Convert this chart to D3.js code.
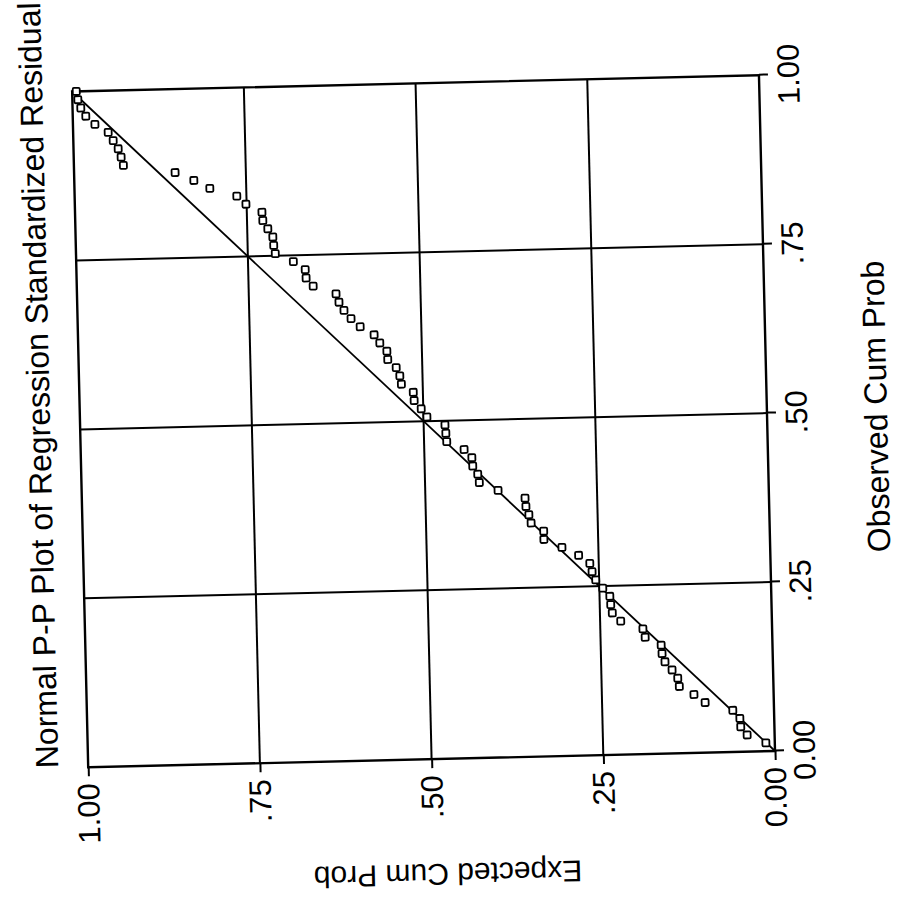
<!DOCTYPE html>
<html><head><meta charset="utf-8">
<script src="https://cdn.jsdelivr.net/npm/d3@7"></script>
<style>body{margin:0;background:#fff}</style>
</head><body>
<svg id="c" width="897" height="909" style="display:block;background:#fff"></svg>
<script>
// Observed cumulative probability of each residual (x axis of the original chart)
const observedCumProb = [
  0.0123,0.0247,0.0370,0.0494,0.0617,0.0741,0.0864,0.0988,0.1111,0.1235,
  0.1358,0.1481,0.1605,0.1728,0.1852,0.1975,0.2099,0.2222,0.2346,0.2469,
  0.2593,0.2716,0.2840,0.2963,0.3086,0.3210,0.3333,0.3457,0.3580,0.3704,
  0.3827,0.3951,0.4074,0.4198,0.4321,0.4444,0.4568,0.4691,0.4815,0.4938,
  0.5062,0.5185,0.5309,0.5432,0.5556,0.5679,0.5802,0.5926,0.6049,0.6173,
  0.6296,0.6420,0.6543,0.6667,0.6790,0.6914,0.7037,0.7160,0.7284,0.7407,
  0.7531,0.7654,0.7778,0.7901,0.8025,0.8148,0.8272,0.8395,0.8519,0.8642,
  0.8765,0.8889,0.9012,0.9136,0.9259,0.9383,0.9506,0.9630,0.9753,0.9877,1.0000
];
// Expected cumulative probability (y axis of the original chart)
const expectedCumProb = [
  0.013,0.040,0.049,0.050,0.060,0.100,0.116,0.137,0.139,0.147,
  0.157,0.161,0.162,0.185,0.188,0.220,0.232,0.234,0.235,0.245,
  0.255,0.260,0.263,0.279,0.303,0.329,0.329,0.347,0.350,0.354,
  0.355,0.394,0.421,0.423,0.430,0.431,0.442,0.467,0.468,0.469,
  0.495,0.503,0.513,0.514,0.531,0.533,0.538,0.550,0.551,0.561,
  0.569,0.589,0.602,0.612,0.619,0.623,0.656,0.666,0.667,0.684,
  0.710,0.712,0.713,0.720,0.727,0.728,0.751,0.764,0.803,0.826,
  0.853,0.928,0.931,0.935,0.942,0.949,0.968,0.981,0.988,0.992,0.994
];
const tickValues = [0, 0.25, 0.5, 0.75, 1];
const tickLabels = ["0.00", ".25", ".50", ".75", "1.00"];
const gridValues = [0.25, 0.5, 0.75];
const chartTitle = "Normal P-P Plot of Regression Standardized Residual";
const xTitle = "Observed Cum Prob";
const yTitle = "Expected Cum Prob";

const FONT = "'Liberation Sans', Arial, Helvetica, sans-serif";
const W = 676, H = 687;
const svg = d3.select("#c");
// The page shows the chart turned a quarter turn counter-clockwise (slightly skewed scan)
const g = svg.append("g").attr("transform", "translate(775,751) rotate(-91.36)");

const x = d3.scaleLinear().domain([0, 1]).range([0, W]);
const y = d3.scaleLinear().domain([0, 1]).range([0, -H]);

// grid
g.append("g").selectAll("line.v").data(gridValues).join("line")
  .attr("x1", d => x(d)).attr("x2", d => x(d))
  .attr("y1", y(0)).attr("y2", y(1))
  .attr("stroke", "#000").attr("stroke-width", 2);
g.append("g").selectAll("line.h").data(gridValues).join("line")
  .attr("x1", x(0)).attr("x2", x(1))
  .attr("y1", d => y(d)).attr("y2", d => y(d))
  .attr("stroke", "#000").attr("stroke-width", 2);

// frame
g.append("rect").attr("x", x(0)).attr("y", y(1))
  .attr("width", x(1) - x(0)).attr("height", y(0) - y(1))
  .attr("fill", "none").attr("stroke", "#000").attr("stroke-width", 2.4);

// axes
const fmt = d => tickLabels[tickValues.indexOf(d)];
const xa = g.append("g").call(d3.axisBottom(x).tickValues(tickValues).tickFormat(fmt).tickSize(9).tickSizeOuter(0).tickPadding(9));
const ya = g.append("g").call(d3.axisLeft(y).tickValues(tickValues).tickFormat(fmt).tickSize(9).tickSizeOuter(0).tickPadding(7));
[xa, ya].forEach(a => {
  a.select(".domain").remove();
  a.attr("font-family", FONT).attr("font-size", 31);
  a.selectAll("line").attr("stroke", "#000").attr("stroke-width", 2);
  a.selectAll("text").attr("fill", "#000");
});

// diagonal reference line
g.append("line").attr("x1", x(0)).attr("y1", y(0)).attr("x2", x(1)).attr("y2", y(1))
  .attr("stroke", "#000").attr("stroke-width", 1.8);

// points
const pts = observedCumProb.map((o, i) => ({o, e: expectedCumProb[i]}));
const s = 7;
g.append("g").selectAll("rect").data(pts).join("rect")
  .attr("x", d => x(d.o) - s / 2).attr("y", d => y(d.e) - s / 2)
  .attr("width", s).attr("height", s).attr("rx", 1.2)
  .attr("fill", "#fff").attr("stroke", "#000").attr("stroke-width", 1.8);

// titles
g.append("text").attr("x", x(0)).attr("y", y(1) - 30)
  .attr("font-family", FONT).attr("font-size", 32).attr("text-anchor", "start")
  .text(chartTitle);
g.append("text").attr("x", x(0.506)).attr("y", 120)
  .attr("font-family", FONT).attr("font-size", 32).attr("text-anchor", "middle")
  .text(xTitle);
g.append("text").attr("transform", `translate(-105,${y(0.48)}) rotate(-90)`)
  .attr("font-family", FONT).attr("font-size", 30).attr("text-anchor", "middle")
  .text(yTitle);
</script>
</body></html>
